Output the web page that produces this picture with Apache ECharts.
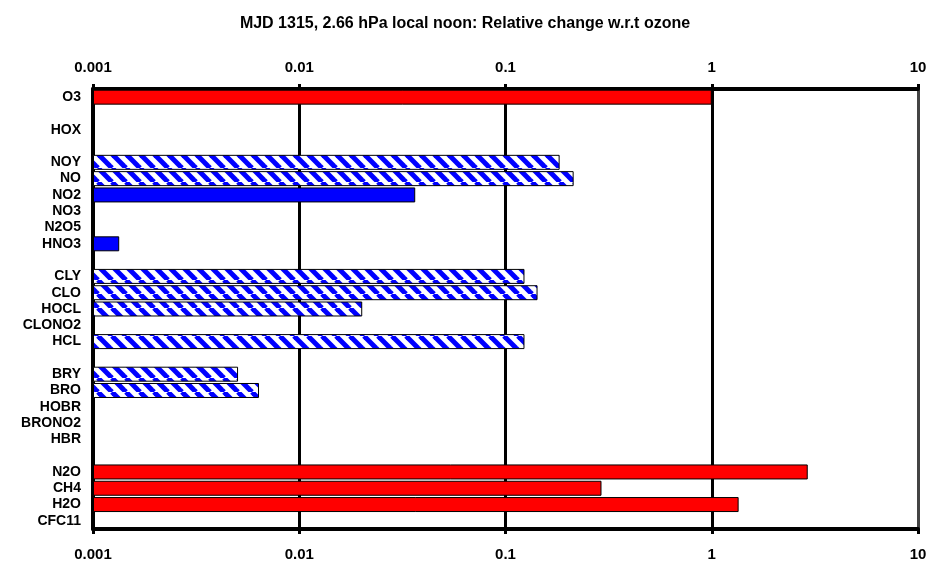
<!DOCTYPE html>
<html>
<head>
<meta charset="utf-8">
<script src="https://cdn.jsdelivr.net/npm/echarts@6/dist/echarts.min.js"></script>
<style>html,body{margin:0;padding:0;background:#fff}#c{width:930px;height:563px}</style>
</head>
<body>
<div id="c"></div>
<script>
const categories = ['O3','','HOX','','NOY','NO','NO2','NO3','N2O5','HNO3','','CLY','CLO','HOCL','CLONO2','HCL','','BRY','BRO','HOBR','BRONO2','HBR','','N2O','CH4','H2O','CFC11'];
const redValues   = [1.0,null,null,null,null,null,null,null,null,null,null,null,null,null,null,null,null,null,null,null,null,null,null,2.92,0.292,1.35,null];
const blueValues  = [null,null,null,null,null,null,0.0365,null,null,0.00134,null,null,null,null,null,null,null,null,null,null,null,null,null,null,null,null,null];
const hatchValues = [null,null,null,null,0.183,0.214,null,null,null,null,null,0.1236,0.143,0.0202,null,0.1236,null,0.00505,0.00638,null,null,null,null,null,null,null,null];
const tickLabels = ['0.001','0.01','0.1','1','10'];
const titleText = 'MJD 1315, 2.66 hPa local noon: Relative change w.r.t ozone';

function hatchPattern(){
  const s = 14;
  const cv = document.createElement('canvas');
  cv.width = s; cv.height = s;
  const ctx = cv.getContext('2d');
  ctx.fillStyle = '#fff'; ctx.fillRect(0,0,s,s);
  ctx.strokeStyle = '#0000ff'; ctx.lineWidth = 5;
  for (let k=-1;k<=1;k++){
    ctx.beginPath(); ctx.moveTo(k*s,0); ctx.lineTo(k*s+s,s); ctx.stroke();
  }
  return cv;
}

const font = 'Liberation Sans, Arial, sans-serif';
const chart = echarts.init(document.getElementById('c'));
const labelFmt = (v, i) => tickLabels[i] !== undefined ? tickLabels[i] : '';
const xCommon = {
  type:'log', logBase:10, min:0.001, max:10, startValue:0.001,
  axisLine:{show:true, onZero:false, lineStyle:{color:'#000', width:4}},
  axisTick:{show:true, length:5, lineStyle:{color:'#000', width:3}},
  minorTick:{show:false}
};
const labelStyle = {formatter:labelFmt, fontWeight:'bold', fontSize:15, color:'#000', fontFamily:font};
const barCommon = {type:'bar', xAxisIndex:0, yAxisIndex:0, barGap:'-100%', barCategoryGap:'8%'};

chart.setOption({
  animation:false,
  backgroundColor:'#fff',
  title:{text:titleText, left:'center', top:11,
    textStyle:{fontSize:16, fontWeight:'bold', color:'#000', fontFamily:font}},
  grid:{left:93, right:12, top:89, bottom:34, show:true, borderColor:'#444', borderWidth:2},
  xAxis:[
    Object.assign({}, xCommon, {position:'top', axisLabel:Object.assign({margin:14}, labelStyle),
      splitLine:{show:true, lineStyle:{color:['#000','#000','#000','#000','#444'], width:3}}}),
    Object.assign({}, xCommon, {position:'bottom', axisLabel:Object.assign({margin:18}, labelStyle), splitLine:{show:false}})
  ],
  yAxis:{type:'category', data:categories, inverse:true,
    axisLine:{show:true, lineStyle:{color:'#000', width:4}},
    axisTick:{show:false},
    splitLine:{show:false},
    axisLabel:{interval:0, fontWeight:'bold', fontSize:14, color:'#000', fontFamily:font, margin:12}},
  series:[
    Object.assign({}, barCommon, {name:'red', data:redValues, itemStyle:{color:'#ff0000', borderColor:'#000', borderWidth:1}}),
    Object.assign({}, barCommon, {name:'blue', data:blueValues, itemStyle:{color:'#0000ff', borderColor:'#000', borderWidth:1}}),
    Object.assign({}, barCommon, {name:'hatch', data:hatchValues, itemStyle:{color:{image:hatchPattern(), repeat:'repeat'}, borderColor:'#000', borderWidth:1}})
  ]
});
</script>
</body>
</html>
